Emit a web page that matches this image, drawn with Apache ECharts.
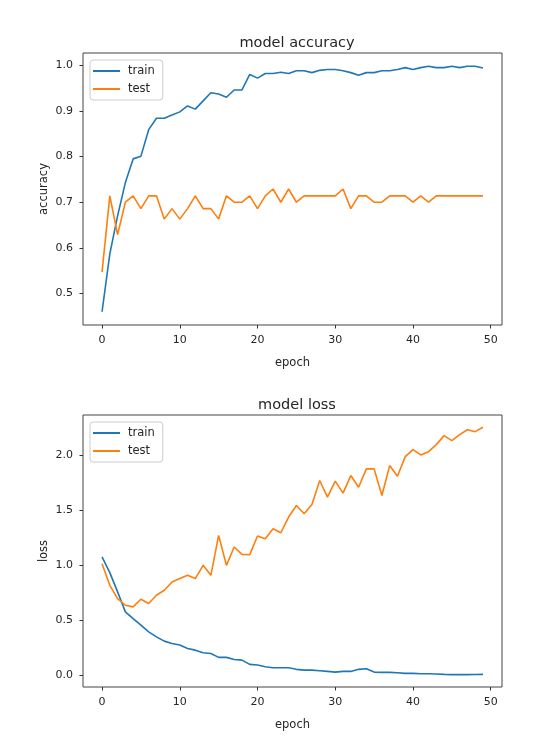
<!DOCTYPE html>
<html lang="en">
<head>
    <meta charset="UTF-8">
    <title>model accuracy / model loss</title>
    <script src="https://cdn.jsdelivr.net/npm/echarts@6/dist/echarts.min.js"></script>
    <style>
        html, body { margin: 0; padding: 0; background: #fff; }
        #chart { width: 548px; height: 741px; }
    </style>
</head>
<body>
<div id="chart"></div>
<script>
    // epochs 0..49
    var epochs = [];
    for (var i = 0; i < 50; i++) epochs.push(i);

    var accTrain = [0.460, 0.587, 0.670, 0.743, 0.795, 0.801, 0.859, 0.884, 0.884, 0.891,
                    0.898, 0.911, 0.904, 0.922, 0.940, 0.937, 0.930, 0.946, 0.946, 0.980,
                    0.972, 0.982, 0.982, 0.985, 0.982, 0.988, 0.988, 0.984, 0.989, 0.991,
                    0.991, 0.988, 0.984, 0.978, 0.984, 0.984, 0.988, 0.988, 0.991, 0.995,
                    0.991, 0.995, 0.998, 0.995, 0.995, 0.998, 0.995, 0.998, 0.998, 0.994];
    var accTest = [0.547, 0.714, 0.629, 0.700, 0.714, 0.686, 0.714, 0.714, 0.663, 0.686,
                   0.663, 0.686, 0.714, 0.686, 0.686, 0.663, 0.714, 0.700, 0.700, 0.714,
                   0.686, 0.714, 0.729, 0.700, 0.729, 0.700, 0.714, 0.714, 0.714, 0.714,
                   0.714, 0.729, 0.686, 0.714, 0.714, 0.700, 0.700, 0.714, 0.714, 0.714,
                   0.700, 0.714, 0.700, 0.714, 0.714, 0.714, 0.714, 0.714, 0.714, 0.714];
    var lossTrain = [1.076, 0.933, 0.758, 0.576, 0.515, 0.455, 0.394, 0.348, 0.309, 0.288,
                     0.273, 0.242, 0.227, 0.203, 0.197, 0.161, 0.161, 0.142, 0.136, 0.097,
                     0.091, 0.076, 0.067, 0.067, 0.067, 0.052, 0.045, 0.045, 0.039, 0.033,
                     0.027, 0.033, 0.033, 0.052, 0.058, 0.027, 0.024, 0.024, 0.021, 0.015,
                     0.015, 0.012, 0.012, 0.009, 0.006, 0.004, 0.005, 0.004, 0.005, 0.006];
    var lossTest = [1.015, 0.818, 0.697, 0.636, 0.621, 0.691, 0.652, 0.727, 0.773, 0.848,
                    0.879, 0.909, 0.879, 1.000, 0.909, 1.273, 1.000, 1.167, 1.100, 1.097,
                    1.267, 1.242, 1.333, 1.297, 1.440, 1.545, 1.470, 1.555, 1.773, 1.621,
                    1.767, 1.658, 1.818, 1.712, 1.879, 1.879, 1.636, 1.909, 1.812, 1.991,
                    2.055, 2.006, 2.036, 2.100, 2.182, 2.136, 2.191, 2.236, 2.218, 2.258];

    var xTicks = [0, 10, 20, 30, 40, 50];
    var accTicks = [0.5, 0.6, 0.7, 0.8, 0.9, 1.0];
    var lossTicks = [0.0, 0.5, 1.0, 1.5, 2.0];

    var blue = '#1f77b4', orange = '#ff7f0e';
    var font = 'DejaVu Sans';
    var ink = '#262626';

    function pairs(ys) {
        return ys.map(function (y, i) { return [epochs[i], y]; });
    }

    function xAxisFor(idx) {
        return {
            type: 'value', gridIndex: idx, min: -2.45, max: 51.45,
            name: 'epoch', nameLocation: 'middle', nameGap: 32,
            nameTextStyle: {fontFamily: font, fontSize: 11.5, color: ink},
            axisLine: {show: false, onZero: false},
            axisTick: {show: true, length: 3.5, customValues: xTicks, lineStyle: {color: '#333'}},
            axisLabel: {customValues: xTicks, fontFamily: font, fontSize: 11, color: ink, margin: 10},
            splitLine: {show: false}
        };
    }

    function yAxisFor(idx, name, lo, hi, ticks) {
        return {
            type: 'value', gridIndex: idx, min: lo, max: hi,
            name: name, nameLocation: 'middle', nameGap: 33, nameMoveOverlap: false,
            nameTextStyle: {fontFamily: font, fontSize: 11.5, color: ink},
            axisLine: {show: false, onZero: false},
            axisTick: {show: true, length: 3.5, customValues: ticks, lineStyle: {color: '#333'}},
            axisLabel: {
                customValues: ticks, fontFamily: font, fontSize: 11, color: ink, margin: 10,
                formatter: function (v) { return v.toFixed(1); }
            },
            splitLine: {show: false}
        };
    }

    function legendAt(top) {
        return {
            orient: 'vertical', left: 90, top: top,
            data: ['train', 'test'],
            icon: 'rect', itemWidth: 27, itemHeight: 2, itemGap: 6,
            padding: [5, 8, 5, 3],
            borderColor: '#ccc', borderWidth: 1, borderRadius: 3,
            textStyle: {fontFamily: font, fontSize: 11.5, color: ink, padding: [0, 0, 0, 3]},
            selectedMode: false
        };
    }

    function line(name, data, color, idx) {
        return {
            name: name, type: 'line', xAxisIndex: idx, yAxisIndex: idx,
            data: pairs(data), showSymbol: false, symbol: 'none',
            lineStyle: {color: color, width: 1.6}, itemStyle: {color: color},
            animation: false
        };
    }

    var chart = echarts.init(document.getElementById('chart'));
    chart.setOption({
        backgroundColor: '#fff',
        animation: false,
        title: [
            {text: 'model accuracy', left: 292, top: 31, textAlign: 'center',
             textStyle: {fontFamily: font, fontSize: 14.5, fontWeight: 'normal', color: ink}},
            {text: 'model loss', left: 292, top: 393, textAlign: 'center',
             textStyle: {fontFamily: font, fontSize: 14.5, fontWeight: 'normal', color: ink}}
        ],
        grid: [
            {left: 83, top: 53, width: 419, height: 272, show: true, borderColor: '#444', borderWidth: 1, backgroundColor: 'transparent'},
            {left: 83, top: 415, width: 419, height: 272, show: true, borderColor: '#444', borderWidth: 1, backgroundColor: 'transparent'}
        ],
        xAxis: [xAxisFor(0), xAxisFor(1)],
        yAxis: [
            yAxisFor(0, 'accuracy', 0.431, 1.027, accTicks),
            yAxisFor(1, 'loss', -0.109, 2.37, lossTicks)
        ],
        legend: [legendAt(60), legendAt(422)],
        series: [
            line('train', accTrain, blue, 0),
            line('test', accTest, orange, 0),
            line('train', lossTrain, blue, 1),
            line('test', lossTest, orange, 1)
        ]
    });
</script>
</body>
</html>
